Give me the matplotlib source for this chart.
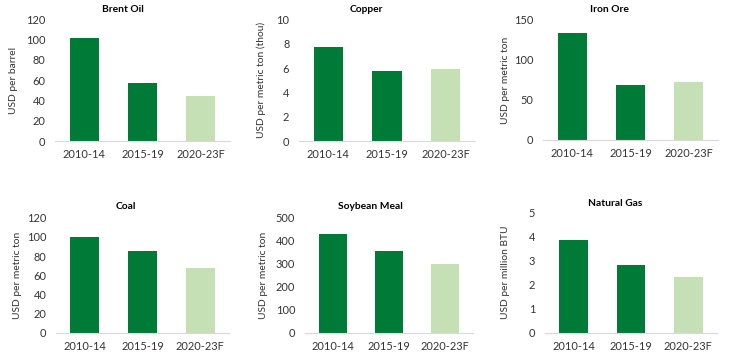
import matplotlib
matplotlib.use("Agg")
import matplotlib.pyplot as plt

plt.rcParams['font.family'] = ['Lato', 'DejaVu Sans']

periods = ["2010-14", "2015-19", "2020-23F"]
titles = ["Brent Oil", "Copper", "Iron Ore", "Coal", "Soybean Meal", "Natural Gas"]
ylabels = ["USD per barrel", "USD per metric ton (thou)", "USD per metric ton",
           "USD per metric ton", "USD per metric ton", "USD per million BTU"]
brent = [102, 57, 44.5]
copper = [7.7, 5.8, 5.95]
iron_ore = [134, 69, 73]
coal = [100, 85, 67]
soybean = [429, 356, 298]
natgas = [3.86, 2.82, 2.32]
series = [brent, copper, iron_ore, coal, soybean, natgas]
ymax = [120, 10, 150, 120, 500, 5]
ystep = [20, 2, 50, 20, 100, 1]

dark = "#007A37"
light = "#C5E0B4"
colors = [dark, dark, light]

W, H = 744, 355
fig = plt.figure(figsize=(W / 100, H / 100), dpi=100)

# axes boxes in pixels: left, right, top, bottom
boxes = [(55, 230, 19.5, 141), (299, 475, 19.5, 141), (543, 718, 20, 140),
         (56, 229, 217.7, 332.7), (305, 473, 217.7, 332.7), (545, 717, 212.7, 332.7)]
title_pos = [(122.5, 9), (366.7, 9), (609, 9), (126, 206.7), (370.7, 206.3), (614.7, 203)]
ylab_x = [18, 266, 510, 21.7, 268, 510]

for i in range(6):
    l, r, t, b = boxes[i]
    ax = fig.add_axes([l / W, 1 - b / H, (r - l) / W, (b - t) / H])
    ax.bar(range(3), series[i], width=0.5, color=colors)
    ax.set_xlim(-0.5, 2.5)
    ax.set_ylim(0, ymax[i])
    ticks = [ystep[i] * k for k in range(int(round(ymax[i] / ystep[i])) + 1)]
    ax.set_yticks(ticks)
    ax.set_yticklabels([str(v) for v in ticks])
    ax.set_xticks(range(3))
    ax.set_xticklabels(periods)
    for s in ["top", "right", "left"]:
        ax.spines[s].set_visible(False)
    ax.spines["bottom"].set_color("#D9D9D9")
    ax.spines["bottom"].set_linewidth(0.8)
    ax.tick_params(axis="both", length=0, labelsize=7.9, colors="#333333")
    ax.tick_params(axis="y", pad=7)
    ax.tick_params(axis="x", pad=6)
    ax.set_ylabel(ylabels[i], fontsize=7.4, color="#333333")
    ax.yaxis.set_label_coords((ylab_x[i] - l) / (r - l), 0.5)
    tx, ty = title_pos[i]
    fig.text(tx / W, 1 - ty / H, titles[i], ha="center", va="center",
             fontsize=7.4, fontweight="bold", color="#000000")

fig.savefig("out.png", dpi=100)
